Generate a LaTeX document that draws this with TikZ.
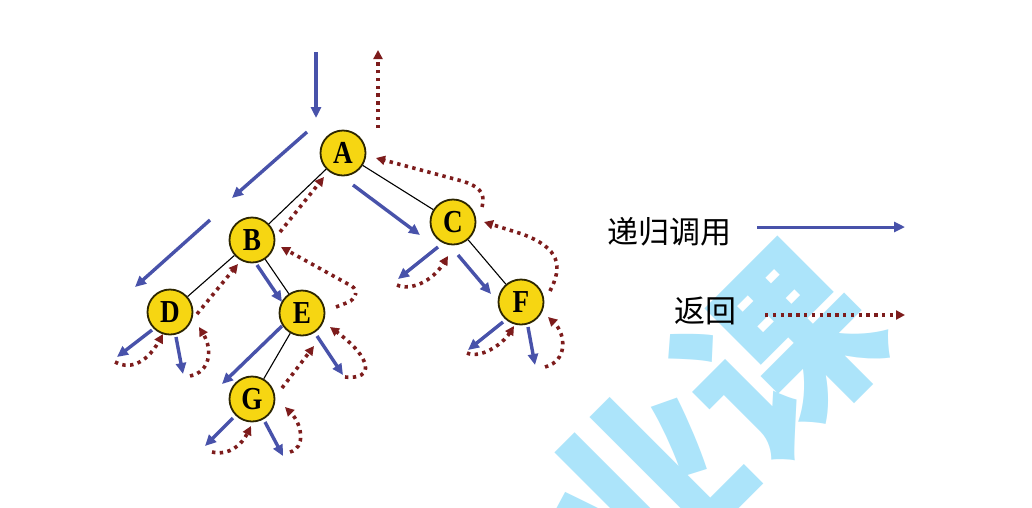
\documentclass[tikz,border=0pt]{standalone}
\usepackage{fontspec}
\usepackage{graphicx}
\setmainfont{Liberation Serif}
\newfontfamily\cjk{Noto Sans CJK SC}
\usetikzlibrary{arrows.meta}
\definecolor{callblue}{RGB}{72,82,170}
\definecolor{retred}{RGB}{125,28,28}
\definecolor{nodeyellow}{RGB}{246,214,18}
\definecolor{treeborder}{RGB}{45,38,0}
\definecolor{wmblue}{RGB}{172,228,250}
\newcommand{\nodelabel}[1]{\scalebox{0.85}[1]{#1}}
\begin{document}
\begin{tikzpicture}[x=1pt,y=-1pt,
  tnode/.style={circle,draw=treeborder,line width=1.8pt,fill=nodeyellow,minimum size=45pt,inner sep=0pt,font=\fontsize{32}{32}\selectfont\bfseries},
  treeedge/.style={line width=1.1pt,black},
  call/.style={callblue,line width=3.4pt,-{Triangle[length=11pt,width=10pt]}},
  ret/.style={retred,line width=3.6pt,line cap=butt,dash pattern=on 3.4pt off 4.4pt,-{Triangle[length=9pt,width=9pt]}},
  legend/.style={font=\cjk\fontsize{31}{31}\selectfont,inner sep=1pt},
  watermark/.style={text=wmblue,rotate=45,font=\cjk\bfseries\fontsize{190}{190}\selectfont}
]
\useasboundingbox (0,0) rectangle (1032,507);
\clip (0,0) rectangle (1032,507);
\fill[white] (0,0) rectangle (1032,507);

% watermark
\node[watermark] (wm) at (712,420) {业课};

% tree nodes
\node[tnode] (A) at (343,153) {\nodelabel{A}};
\node[tnode] (B) at (252,240) {\nodelabel{B}};
\node[tnode] (C) at (453,222) {\nodelabel{C}};
\node[tnode] (D) at (170,312) {\nodelabel{D}};
\node[tnode] (E) at (302,313) {\nodelabel{E}};
\node[tnode] (F) at (521,302) {\nodelabel{F}};
\node[tnode] (G) at (252,399) {\nodelabel{G}};

% tree edges
\draw[treeedge] (A) -- (B);
\draw[treeedge] (A) -- (C);
\draw[treeedge] (B) -- (D);
\draw[treeedge] (B) -- (E);
\draw[treeedge] (C) -- (F);
\draw[treeedge] (E) -- (G);

% legend
\node[legend] (lcall) at (669,232) {递归调用};
\node[legend] (lret) at (705,311) {返回};

% free end points
\path
  coordinate (k1s) at (316,52)  coordinate (k1e) at (316,118)
  coordinate (k2s) at (307,132) coordinate (k2e) at (232,198)
  coordinate (k3s) at (353,185) coordinate (k3e) at (420,235)
  coordinate (k4s) at (210,220) coordinate (k4e) at (135,287)
  coordinate (k5s) at (257,265) coordinate (k5e) at (282,302)
  coordinate (k6s) at (152,330) coordinate (k6e) at (117,357)
  coordinate (k7s) at (176,337) coordinate (k7e) at (183,374)
  coordinate (k8s) at (282,326) coordinate (k8e) at (222,384)
  coordinate (k9s) at (317,336) coordinate (k9e) at (343,375)
  coordinate (k10s) at (233,418) coordinate (k10e) at (205,446)
  coordinate (k11s) at (265,422) coordinate (k11e) at (283,456)
  coordinate (k12s) at (438,247) coordinate (k12e) at (398,279)
  coordinate (k13s) at (458,255) coordinate (k13e) at (491,294)
  coordinate (k14s) at (503,322) coordinate (k14e) at (468,350)
  coordinate (k15s) at (528,327) coordinate (k15e) at (535,365)
  coordinate (k16s) at (757,227) coordinate (k16e) at (905,227);

% recursive calls
\draw[call] (k1s) -- (k1e);
\draw[call] (k2s) -- (k2e);
\draw[call] (k3s) -- (k3e);
\draw[call] (k4s) -- (k4e);
\draw[call] (k5s) -- (k5e);
\draw[call] (k6s) -- (k6e);
\draw[call] (k7s) -- (k7e);
\draw[call] (k8s) -- (k8e);
\draw[call] (k9s) -- (k9e);
\draw[call] (k10s) -- (k10e);
\draw[call] (k11s) -- (k11e);
\draw[call] (k12s) -- (k12e);
\draw[call] (k13s) -- (k13e);
\draw[call] (k14s) -- (k14e);
\draw[call] (k15s) -- (k15e);
\draw[call,line width=3pt] (k16s) -- (k16e);

% returns
\path
  coordinate (r1s) at (378,128) coordinate (r1e) at (378,50)
  coordinate (r2s) at (280,232) coordinate (r2e) at (324,177)
  coordinate (r3s) at (482,207) coordinate (r3e) at (376,158)
  coordinate (r4s) at (550,291) coordinate (r4e) at (484,222)
  coordinate (r5s) at (197,314) coordinate (r5e) at (238,264)
  coordinate (r6s) at (336,307) coordinate (r6e) at (281,247)
  coordinate (r7s) at (115,362) coordinate (r7e) at (163,334)
  coordinate (r8s) at (190,376) coordinate (r8e) at (199,327)
  coordinate (r9s) at (282,388) coordinate (r9e) at (314,346)
  coordinate (r10s) at (345,377) coordinate (r10e) at (330,327)
  coordinate (r11s) at (212,452) coordinate (r11e) at (251,426)
  coordinate (r12s) at (290,452) coordinate (r12e) at (285,407)
  coordinate (r13s) at (397,285) coordinate (r13e) at (448,256)
  coordinate (r14s) at (467,353) coordinate (r14e) at (514,326)
  coordinate (r15s) at (545,367) coordinate (r15e) at (548,317)
  coordinate (r16s) at (765,315) coordinate (r16e) at (905,315);

\draw[ret] (r1s) -- (r1e);
\draw[ret] (r2s) -- (r2e);
\draw[ret] (r3s) .. controls (486,192) and (478,186) .. (462,181) -- (r3e);
\draw[ret] (r4s) .. controls (563,266) and (560,248) .. (522,234) -- (r4e);
\draw[ret] (r5s) -- (r5e);
\draw[ret,rounded corners=6pt] (r6s) -- (354,300) -- (357,289) -- (r6e);
\draw[ret] (r7s) .. controls (127,369) and (145,366) .. (r7e);
\draw[ret] (r8s) .. controls (210,372) and (213,350) .. (r8e);
\draw[ret] (r9s) -- (r9e);
\draw[ret] (r10s) .. controls (375,380) and (372,358) .. (r10e);
\draw[ret] (r11s) .. controls (230,456) and (242,444) .. (r11e);
\draw[ret] (r12s) .. controls (306,448) and (302,424) .. (r12e);
\draw[ret] (r13s) .. controls (410,291) and (432,282) .. (r13e);
\draw[ret] (r14s) .. controls (480,359) and (502,345) .. (r14e);
\draw[ret] (r15s) .. controls (568,361) and (566,334) .. (r15e);
\draw[ret,line width=3.2pt] (r16s) -- (r16e);
\end{tikzpicture}
\end{document}
